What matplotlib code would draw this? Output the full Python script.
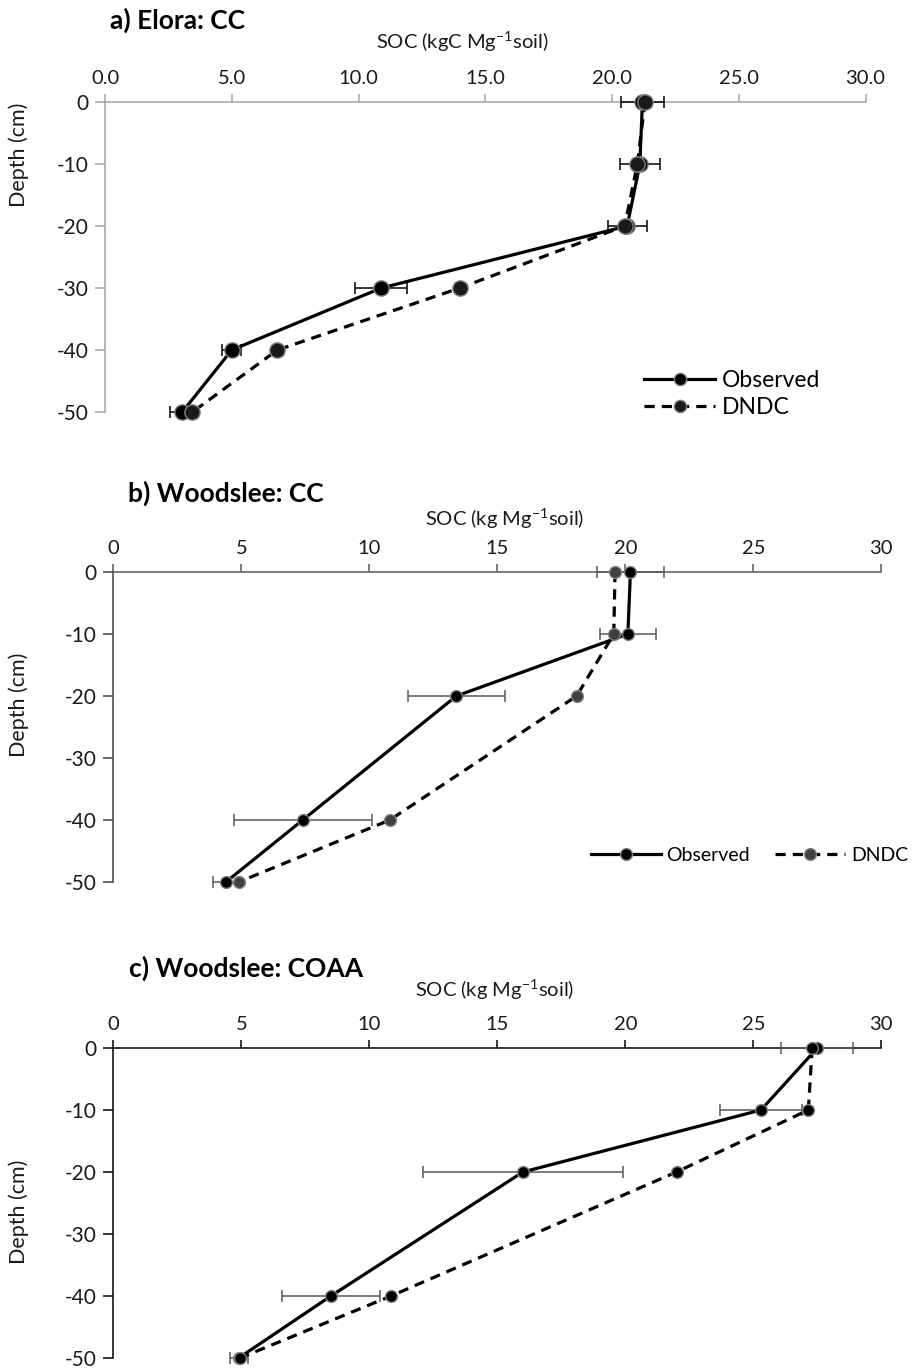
import matplotlib
matplotlib.use('Agg')
import matplotlib.pyplot as plt
from matplotlib.ticker import FixedLocator, FuncFormatter

plt.rcParams['font.family'] = ['Lato', 'DejaVu Sans']
plt.rcParams['mathtext.fontset'] = 'custom'
plt.rcParams['mathtext.rm'] = 'Lato'
plt.rcParams['axes.unicode_minus'] = False

# a) Elora: CC
depth_a = [0, -10, -20, -30, -40, -50]
obs_a = [21.2, 21.1, 20.6, 10.9, 5.0, 3.05]
obs_err_a = [0.85, 0.8, 0.77, 1.03, 0.37, 0.49]
dndc_a = [21.3, 21.0, 20.5, 14.0, 6.8, 3.45]

# b) Woodslee: CC
depth_b = [0, -10, -20, -40, -50]
obs_b = [20.2, 20.1, 13.4, 7.4, 4.4]
obs_err_b = [1.3, 1.1, 1.9, 2.7, 0.5]
dndc_b = [19.6, 19.55, 18.1, 10.8, 4.9]

# c) Woodslee: COAA
depth_c = [0, -10, -20, -40, -50]
obs_c = [27.5, 25.3, 16.0, 8.5, 4.9]
obs_err_c = [1.4, 1.6, 3.9, 1.9, 0.35]
dndc_c = [27.3, 27.15, 22.0, 10.85, 4.95]

x_ticks = [0, 5, 10, 15, 20, 25, 30]
y_ticks = [0, -10, -20, -30, -40, -50]

W, H = 913, 1372


def axes_px(fig, x0, x1, ytop, ybot):
    return fig.add_axes([x0 / W, 1 - ybot / H, (x1 - x0) / W, (ybot - ytop) / H])


def panel(ax, title, xlabel, depth, obs, err, dndc, fmt, spine_top, spine_left,
          err_color, msize, obs_face, dndc_face, edge, title_xy, xlabel_xy, ylab_xy):
    ax.set_xlim(0, 30)
    ax.set_ylim(-50, 0)
    for s in ['right', 'bottom']:
        ax.spines[s].set_visible(False)
    ax.spines['top'].set_color(spine_top)
    ax.spines['left'].set_color(spine_left)
    ax.spines['top'].set_linewidth(1.1)
    ax.spines['left'].set_linewidth(1.1)
    ax.xaxis.set_ticks_position('top')
    ax.xaxis.set_major_locator(FixedLocator(x_ticks))
    ax.xaxis.set_major_formatter(FuncFormatter(lambda v, p: fmt % v))
    ax.yaxis.set_major_locator(FixedLocator(y_ticks))
    ax.yaxis.set_major_formatter(FuncFormatter(lambda v, p: '%d' % v))
    ax.tick_params(axis='x', direction='out', length=6, width=1.1, color=spine_top,
                   labelsize=14.5, pad=5, labelcolor='#1a1a1a')
    ax.tick_params(axis='y', direction='out', length=7, width=1.1, color=spine_left,
                   labelsize=15, pad=5, labelcolor='#1a1a1a')

    ax.errorbar(obs, depth, xerr=err, fmt='none', ecolor=err_color, elinewidth=1.1,
                capsize=4, capthick=1.1, clip_on=False, zorder=3)
    ax.plot(obs, depth, '-', color='black', lw=2.3, marker='o', ms=msize,
            mfc=obs_face, mec=edge, mew=1.0, clip_on=False, zorder=4, label='Observed')
    ax.plot(dndc, depth, '--', color='black', lw=2.3, dashes=(3.2, 2.2), marker='o', ms=msize,
            mfc=dndc_face, mec=edge, mew=1.0, clip_on=False, zorder=5, label='DNDC')

    fig = ax.figure
    fig.text(title_xy[0] / W, 1 - title_xy[1] / H, title, fontsize=19, fontweight='bold',
             ha='left', va='center')
    fig.text(xlabel_xy[0] / W, 1 - xlabel_xy[1] / H, xlabel, fontsize=14.5,
             ha='center', va='center', color='#1a1a1a')
    ax.set_ylabel('Depth (cm)', fontsize=15.5, color='#1a1a1a')
    ax.yaxis.set_label_coords(*ylab_xy)


fig = plt.figure(figsize=(W / 100, H / 100), dpi=100)

ax_a = axes_px(fig, 105, 865.5, 102, 412)
panel(ax_a, 'a) Elora: CC', 'SOC (kgC Mg$^{-1}$soil)', depth_a, obs_a, obs_err_a, dndc_a,
      '%.1f', '#a6a6a6', '#a6a6a6', 'black', 11, 'black', '#1a1a1a', '#808080',
      (110, 20), (462, 42), (-0.1, 0.83))
ax_a.legend(loc='lower right', bbox_to_anchor=(0.962, -0.07), frameon=False,
            fontsize=16.5, handlelength=3.1, handletextpad=0.3, labelspacing=0.25,
            borderpad=0.2, markerscale=0.8)

ax_b = axes_px(fig, 113.3, 881.3, 572, 882)
panel(ax_b, 'b) Woodslee: CC', 'SOC (kg Mg$^{-1}$soil)', depth_b, obs_b, obs_err_b, dndc_b,
      '%d', '#595959', '#404040', '#595959', 8.5, 'black', '#404040', '#808080',
      (128, 493), (505, 519), (-0.11, 0.57))
ax_b.legend(loc='center right', bbox_to_anchor=(1.053, 0.085), frameon=False, fontsize=14,
            ncol=2, handlelength=3.6, handletextpad=0.3, columnspacing=1.3, borderpad=0.2)

ax_c = axes_px(fig, 113.3, 881.3, 1048, 1358)
panel(ax_c, 'c) Woodslee: COAA', 'SOC (kg Mg$^{-1}$soil)', depth_c, obs_c, obs_err_c, dndc_c,
      '%d', 'black', 'black', '#595959', 8.5, 'black', 'black', '#808080',
      (129, 968), (495, 990), (-0.11, 0.47))

fig.savefig('out.png', dpi=100)
